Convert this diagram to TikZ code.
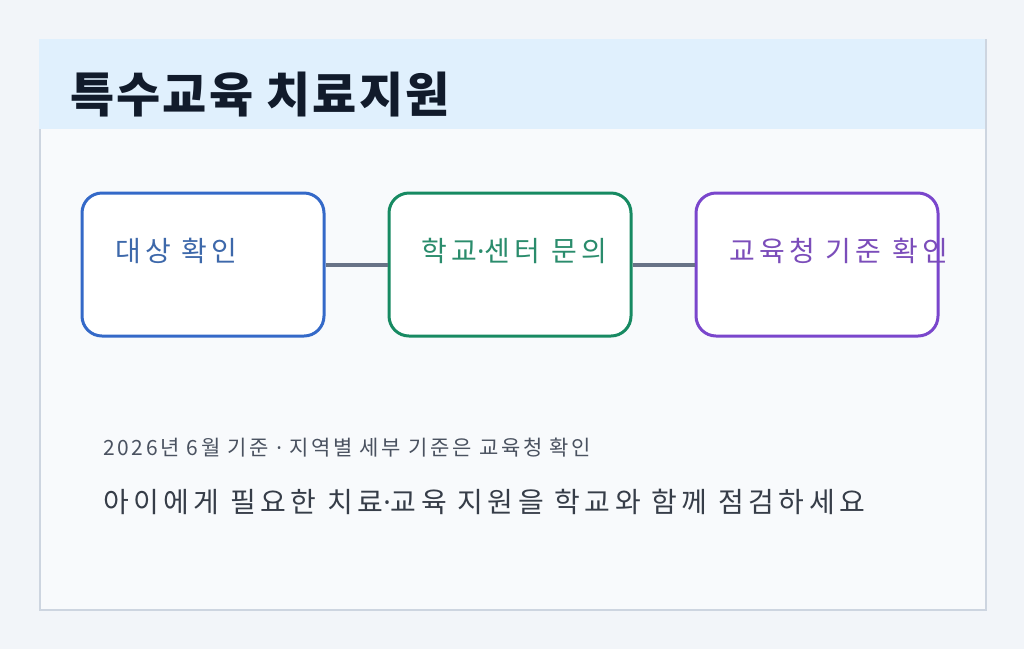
\documentclass[tikz,border=0pt]{standalone}
\usepackage{fontspec}
\setmainfont{Noto Sans CJK KR}
\newfontfamily\dotfont{Noto Sans}
\newcommand{\mdot}{{\dotfont ·}}
\definecolor{pagebg}{HTML}{F2F5F9}
\definecolor{cardbg}{HTML}{F8FAFC}
\definecolor{cardline}{HTML}{CDD5E0}
\definecolor{headbg}{HTML}{E0F0FD}
\definecolor{titlec}{HTML}{111B2B}
\definecolor{blueS}{HTML}{3469C8}
\definecolor{blueT}{HTML}{3D68AA}
\definecolor{greenS}{HTML}{178A62}
\definecolor{greenT}{HTML}{2A8C6C}
\definecolor{purpS}{HTML}{7A46CC}
\definecolor{purpT}{HTML}{7B4DBA}
\definecolor{linkc}{HTML}{687387}
\definecolor{noteT}{HTML}{4A5260}
\definecolor{mainT}{HTML}{363D48}
\tikzset{
  stepbox/.style={draw, line width=3pt, fill=white, rounded corners=20pt, minimum width=242pt, minimum height=143pt, inner sep=0pt},
  steptext/.style={anchor=base west, inner sep=0pt, font=\fontsize{28}{30}\selectfont\addfontfeature{LetterSpace=15.5}},
  link/.style={draw=linkc, line width=4pt}
}
\begin{document}
\begin{tikzpicture}[x=1pt,y=-1pt]
\useasboundingbox (0,0) rectangle (1024,649);
\fill[pagebg] (0,0) rectangle (1024,649);
\node[draw=cardline, line width=1.5pt, fill=cardbg, minimum width=946pt, minimum height=570pt, inner sep=0pt, anchor=north west] (card) at (39,39) {};
\fill[headbg] (39,39) rectangle (985,129);
\node[anchor=base west, inner sep=0pt, text=titlec, font=\fontsize{48}{50}\selectfont\bfseries\addfontfeature{LetterSpace=4.5}] (title) at (70,112) {특수교육 치료지원};
\node[stepbox, draw=blueS] (b1) at (203,264.5) {};
\node[stepbox, draw=greenS] (b2) at (510,264.5) {};
\node[stepbox, draw=purpS] (b3) at (817,264.5) {};
\draw[link] (b1.east) -- (b2.west);
\draw[link] (b2.east) -- (b3.west);
\node[steptext, text=blueT] (t1) at (115,261) {대상 확인};
\node[steptext, text=greenT] (t2) at (421,261) {학교\mdot 센터 문의};
\node[steptext, text=purpT] (t3) at (729,261) {교육청 기준 확인};
\node[anchor=base west, inner sep=0pt, text=noteT, font=\fontsize{21}{24}\selectfont\addfontfeature{LetterSpace=12.5}] (note) at (103,455) {2026년 6월 기준 \mdot{} 지역별 세부 기준은 교육청 확인};
\node[anchor=base west, inner sep=0pt, text=mainT, font=\fontsize{28}{34}\selectfont\addfontfeature{LetterSpace=16}] (msg) at (103,512) {아이에게 필요한 치료\mdot 교육 지원을 학교와 함께 점검하세요};
\end{tikzpicture}
\end{document}
